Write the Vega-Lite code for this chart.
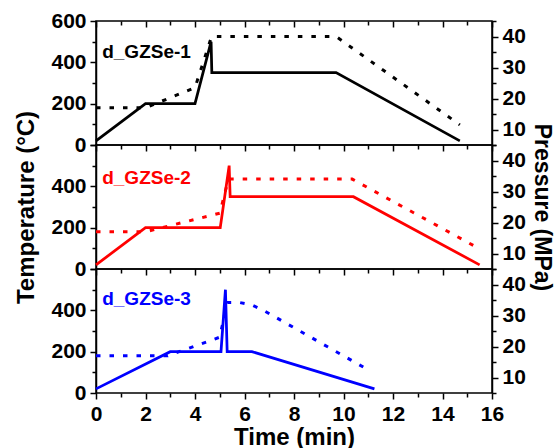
{
  "$schema": "https://vega.github.io/schema/vega-lite/v6.json",
  "padding": {"left": 14, "top": 9, "right": 0, "bottom": 0},
  "spacing": 0,
  "bounds": "flush",
  "datasets": {
    "d": [
      {"p": 1, "s": "T", "t": 0, "v": 20},
      {"p": 1, "s": "T", "t": 2, "v": 200},
      {"p": 1, "s": "T", "t": 4, "v": 200},
      {"p": 1, "s": "T", "t": 4.65, "v": 500},
      {"p": 1, "s": "T", "t": 4.68, "v": 350},
      {"p": 1, "s": "T", "t": 9.7, "v": 350},
      {"p": 1, "s": "T", "t": 14.7, "v": 20},
      {"p": 1, "s": "P", "t": 0, "v": 17},
      {"p": 1, "s": "P", "t": 2, "v": 17},
      {"p": 1, "s": "P", "t": 4, "v": 23.5},
      {"p": 1, "s": "P", "t": 4.67, "v": 40},
      {"p": 1, "s": "P", "t": 9.7, "v": 40},
      {"p": 1, "s": "P", "t": 14.7, "v": 11.5},
      {"p": 2, "s": "T", "t": 0, "v": 20},
      {"p": 2, "s": "T", "t": 2, "v": 200},
      {"p": 2, "s": "T", "t": 5.02, "v": 200},
      {"p": 2, "s": "T", "t": 5.38, "v": 500},
      {"p": 2, "s": "T", "t": 5.42, "v": 350},
      {"p": 2, "s": "T", "t": 10.4, "v": 350},
      {"p": 2, "s": "T", "t": 15.5, "v": 20},
      {"p": 2, "s": "P", "t": 0, "v": 17},
      {"p": 2, "s": "P", "t": 2, "v": 17},
      {"p": 2, "s": "P", "t": 5.0, "v": 23},
      {"p": 2, "s": "P", "t": 5.35, "v": 34},
      {"p": 2, "s": "P", "t": 10.35, "v": 34},
      {"p": 2, "s": "P", "t": 15.5, "v": 11.5},
      {"p": 3, "s": "T", "t": 0, "v": 20},
      {"p": 3, "s": "T", "t": 3, "v": 200},
      {"p": 3, "s": "T", "t": 5.05, "v": 200},
      {"p": 3, "s": "T", "t": 5.23, "v": 500},
      {"p": 3, "s": "T", "t": 5.3, "v": 200},
      {"p": 3, "s": "T", "t": 6.3, "v": 200},
      {"p": 3, "s": "T", "t": 11.25, "v": 20},
      {"p": 3, "s": "P", "t": 0, "v": 17},
      {"p": 3, "s": "P", "t": 2.9, "v": 17},
      {"p": 3, "s": "P", "t": 5.0, "v": 23},
      {"p": 3, "s": "P", "t": 5.3, "v": 34.2},
      {"p": 3, "s": "P", "t": 5.8, "v": 34.2},
      {"p": 3, "s": "P", "t": 6.3, "v": 33.4},
      {"p": 3, "s": "P", "t": 6.8, "v": 31.5},
      {"p": 3, "s": "P", "t": 11.1, "v": 12}
    ],
    "labels": [
      {"p": 1, "t": 0.25, "v": 450, "label": "d_GZSe-1"},
      {"p": 2, "t": 0.25, "v": 440, "label": "d_GZSe-2"},
      {"p": 3, "t": 0.25, "v": 455, "label": "d_GZSe-3"}
    ]
  },
  "config": {
    "font": "Liberation Sans",
    "view": {"stroke": "black", "strokeWidth": 1.5},
    "axis": {
      "labelFont": "Liberation Sans", "labelFontWeight": "bold", "labelFontSize": 21, "labelColor": "black",
      "titleFont": "Liberation Sans", "titleFontWeight": "bold", "titleFontSize": 24, "titleColor": "black",
      "domainColor": "black", "domainWidth": 1.5, "tickColor": "black", "tickWidth": 1.5, "grid": false,
      "labelOverlap": false, "labelFlush": false
    }
  },
  "vconcat": [
    {
      "width": 396, "height": 124,
      "layer": [
        {
          "data": {"name": "d"},
          "transform": [{"filter": "datum.p == 1 && datum.s == 'T'"}],
          "mark": {"type": "line", "color": "black", "strokeWidth": 2.75},
          "encoding": {
            "x": {"field": "t", "type": "quantitative", "scale": {"domain": [0, 16], "nice": false, "zero": false},
                  "axis": {"orient": "bottom", "values": [0,1,2,3,4,5,6,7,8,9,10,11,12,13,14,15,16], "labels": false, "title": null, "domain": false,
                           "tickSize": {"condition": {"test": "datum.value % 2 === 0", "value": 6}, "value": 4}}},
            "y": {"field": "v", "type": "quantitative", "scale": {"domain": [0, 600], "nice": false},
                  "axis": {"orient": "left", "values": [0,100,200,300,400,500,600], "title": null, "labelPadding": 4,
                           "labelExpr": "datum.value % 200 === 0 ? datum.label : ''",
                           "tickSize": {"condition": {"test": "datum.value % 200 === 0", "value": 6}, "value": 4}}}
          }
        },
        {
          "data": {"name": "labels"},
          "transform": [{"filter": "datum.p == 1"}],
          "mark": {"type": "text", "color": "black", "fontSize": 19, "fontWeight": "bold", "align": "left", "baseline": "middle", "font": "Liberation Sans"},
          "encoding": {
            "x": {"field": "t", "type": "quantitative", "scale": {"domain": [0, 16], "nice": false, "zero": false}, "axis": null},
            "y": {"field": "v", "type": "quantitative", "scale": {"domain": [0, 600], "nice": false}, "axis": null},
            "text": {"field": "label"}
          }
        },
        {
          "data": {"name": "d"},
          "transform": [{"filter": "datum.p == 1 && datum.s == 'P'"}],
          "mark": {"type": "line", "color": "black", "strokeWidth": 3, "strokeDash": [4.5, 9]},
          "encoding": {
            "x": {"field": "t", "type": "quantitative", "scale": {"domain": [0, 16], "nice": false, "zero": false},
                  "axis": {"orient": "top", "values": [0,1,2,3,4,5,6,7,8,9,10,11,12,13,14,15,16], "labels": false, "title": null, "domain": false,
                           "tickSize": {"condition": {"test": "datum.value % 2 === 0", "value": -6}, "value": -4}}},
            "y": {"field": "v", "type": "quantitative", "scale": {"domain": [5, 45], "nice": false, "zero": false},
                  "axis": {"orient": "right", "values": [5,10,15,20,25,30,35,40,45], "title": null, "labelPadding": 4,
                           "labelExpr": "datum.value % 10 === 0 ? datum.label : ''",
                           "tickSize": {"condition": {"test": "datum.value % 10 === 0", "value": 6}, "value": 4}}}
          }
        }
      ],
      "resolve": {"scale": {"y": "independent"}, "axis": {"x": "independent", "y": "independent"}}
    },
    {
      "width": 396, "height": 124,
      "layer": [
        {
          "data": {"name": "d"},
          "transform": [{"filter": "datum.p == 2 && datum.s == 'T'"}],
          "mark": {"type": "line", "color": "#ff0000", "strokeWidth": 2.75},
          "encoding": {
            "x": {"field": "t", "type": "quantitative", "scale": {"domain": [0, 16], "nice": false, "zero": false},
                  "axis": {"orient": "bottom", "values": [0,1,2,3,4,5,6,7,8,9,10,11,12,13,14,15,16], "labels": false, "title": null, "domain": false,
                           "tickSize": {"condition": {"test": "datum.value % 2 === 0", "value": 6}, "value": 4}}},
            "y": {"field": "v", "type": "quantitative", "scale": {"domain": [0, 600], "nice": false},
                  "axis": {"orient": "left", "values": [0,100,200,300,400,500,600], "title": "Temperature (°C)", "titlePadding": 12, "labelPadding": 4,
                           "labelExpr": "(datum.value % 200 === 0 && datum.value < 600) ? datum.label : ''",
                           "tickSize": {"condition": {"test": "datum.value % 200 === 0", "value": 6}, "value": 4}}}
          }
        },
        {
          "data": {"name": "labels"},
          "transform": [{"filter": "datum.p == 2"}],
          "mark": {"type": "text", "color": "#ff0000", "fontSize": 19, "fontWeight": "bold", "align": "left", "baseline": "middle", "font": "Liberation Sans"},
          "encoding": {
            "x": {"field": "t", "type": "quantitative", "scale": {"domain": [0, 16], "nice": false, "zero": false}, "axis": null},
            "y": {"field": "v", "type": "quantitative", "scale": {"domain": [0, 600], "nice": false}, "axis": null},
            "text": {"field": "label"}
          }
        },
        {
          "data": {"name": "d"},
          "transform": [{"filter": "datum.p == 2 && datum.s == 'P'"}],
          "mark": {"type": "line", "color": "#ff0000", "strokeWidth": 3, "strokeDash": [4.5, 9]},
          "encoding": {
            "x": {"field": "t", "type": "quantitative", "scale": {"domain": [0, 16], "nice": false, "zero": false}, "axis": null},
            "y": {"field": "v", "type": "quantitative", "scale": {"domain": [5, 45], "nice": false, "zero": false},
                  "axis": {"orient": "right", "values": [5,10,15,20,25,30,35,40,45], "title": "Pressure (MPa)", "titleFontSize": 23, "titlePadding": 4, "labelPadding": 4,
                           "labelExpr": "datum.value % 10 === 0 ? datum.label : ''",
                           "tickSize": {"condition": {"test": "datum.value % 10 === 0", "value": 6}, "value": 4}}}
          }
        }
      ],
      "resolve": {"scale": {"y": "independent"}, "axis": {"x": "independent", "y": "independent"}}
    },
    {
      "width": 396, "height": 124,
      "layer": [
        {
          "data": {"name": "d"},
          "transform": [{"filter": "datum.p == 3 && datum.s == 'T'"}],
          "mark": {"type": "line", "color": "#0000ff", "strokeWidth": 2.75},
          "encoding": {
            "x": {"field": "t", "type": "quantitative", "scale": {"domain": [0, 16], "nice": false, "zero": false},
                  "axis": {"orient": "bottom", "values": [0,1,2,3,4,5,6,7,8,9,10,11,12,13,14,15,16], "title": "Time (min)", "titlePadding": 1, "labelPadding": 4, "domain": false,
                           "labelExpr": "datum.value % 2 === 0 ? datum.label : ''",
                           "tickSize": {"condition": {"test": "datum.value % 2 === 0", "value": 6}, "value": 4}}},
            "y": {"field": "v", "type": "quantitative", "scale": {"domain": [0, 600], "nice": false},
                  "axis": {"orient": "left", "values": [0,100,200,300,400,500,600], "title": null, "labelPadding": 4,
                           "labelExpr": "(datum.value % 200 === 0 && datum.value < 600) ? datum.label : ''",
                           "tickSize": {"condition": {"test": "datum.value % 200 === 0", "value": 6}, "value": 4}}}
          }
        },
        {
          "data": {"name": "labels"},
          "transform": [{"filter": "datum.p == 3"}],
          "mark": {"type": "text", "color": "#0000ff", "fontSize": 19, "fontWeight": "bold", "align": "left", "baseline": "middle", "font": "Liberation Sans"},
          "encoding": {
            "x": {"field": "t", "type": "quantitative", "scale": {"domain": [0, 16], "nice": false, "zero": false}, "axis": null},
            "y": {"field": "v", "type": "quantitative", "scale": {"domain": [0, 600], "nice": false}, "axis": null},
            "text": {"field": "label"}
          }
        },
        {
          "data": {"name": "d"},
          "transform": [{"filter": "datum.p == 3 && datum.s == 'P'"}],
          "mark": {"type": "line", "color": "#0000ff", "strokeWidth": 3, "strokeDash": [4.5, 9]},
          "encoding": {
            "x": {"field": "t", "type": "quantitative", "scale": {"domain": [0, 16], "nice": false, "zero": false}, "axis": null},
            "y": {"field": "v", "type": "quantitative", "scale": {"domain": [5, 45], "nice": false, "zero": false},
                  "axis": {"orient": "right", "values": [5,10,15,20,25,30,35,40,45], "title": null, "labelPadding": 4,
                           "labelExpr": "datum.value % 10 === 0 ? datum.label : ''",
                           "tickSize": {"condition": {"test": "datum.value % 10 === 0", "value": 6}, "value": 4}}}
          }
        }
      ],
      "resolve": {"scale": {"y": "independent"}, "axis": {"x": "independent", "y": "independent"}}
    }
  ]
}
